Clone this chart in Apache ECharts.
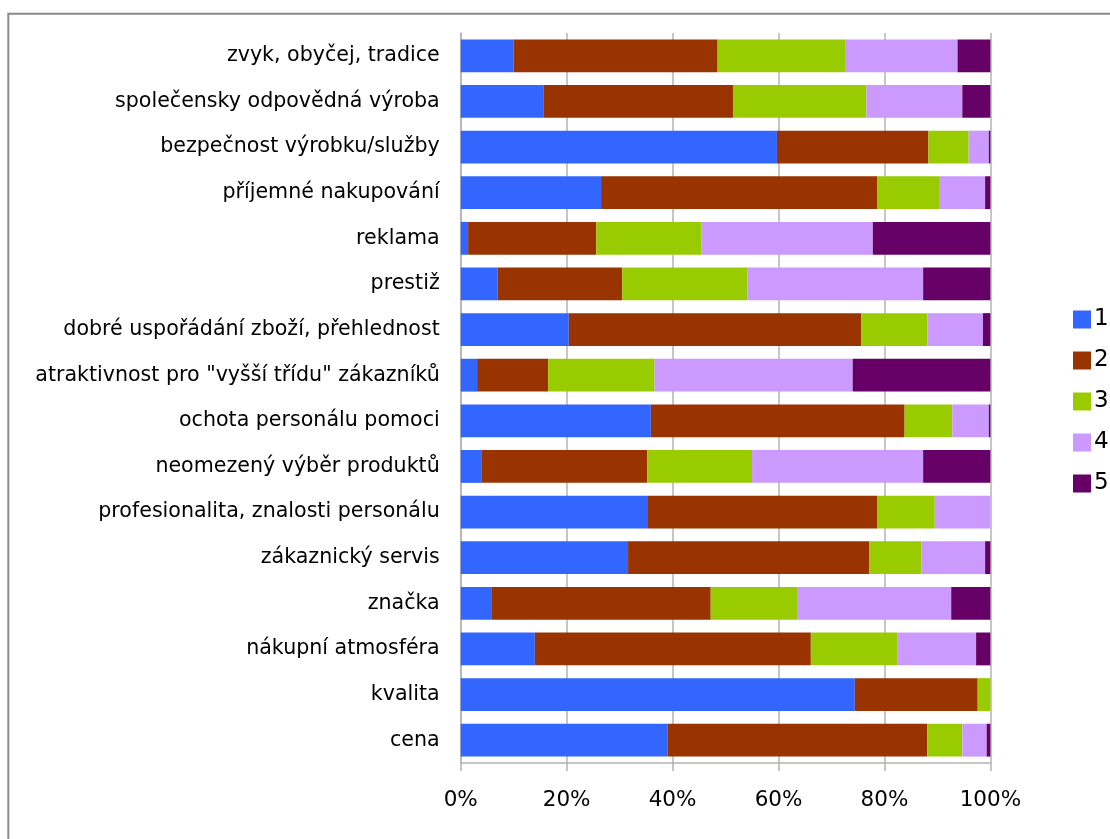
<!DOCTYPE html>
<html>
<head>
<meta charset="utf-8">
<script src="https://cdn.jsdelivr.net/npm/echarts@6/dist/echarts.min.js"></script>
<style>
  html, body { margin: 0; padding: 0; background: #fff; }
  #chart { width: 1110px; height: 839px; }
</style>
</head>
<body>
<div id="chart"></div>
<script>
// Factors, listed top to bottom
const categories = [
  'zvyk, obyčej, tradice',
  'společensky odpovědná výroba',
  'bezpečnost výrobku/služby',
  'příjemné nakupování',
  'reklama',
  'prestiž',
  'dobré uspořádání zboží, přehlednost',
  'atraktivnost pro "vyšší třídu" zákazníků',
  'ochota personálu pomoci',
  'neomezený výběr produktů',
  'profesionalita, znalosti personálu',
  'zákaznický servis',
  'značka',
  'nákupní atmosféra',
  'kvalita',
  'cena'
];

// Share of answers (%) for each rating 1–5, same order as categories
const rating1 = [10.0, 15.7, 59.7, 26.5, 1.4, 7.0, 20.4, 3.1, 35.9, 4.0, 35.2, 31.6, 5.9, 14.0, 74.4, 39.1];
const rating2 = [38.5, 35.7, 28.6, 52.1, 24.2, 23.5, 55.2, 13.4, 47.9, 31.2, 43.4, 45.5, 41.3, 52.1, 23.2, 49.0];
const rating3 = [24.2, 25.2, 7.6, 11.7, 19.8, 23.6, 12.5, 20.1, 9.0, 19.8, 10.9, 9.9, 16.3, 16.4, 2.4, 6.6];
const rating4 = [21.1, 18.1, 3.8, 8.7, 32.4, 33.2, 10.5, 37.4, 6.9, 32.3, 10.5, 12.0, 29.1, 14.8, 0, 4.6];
const rating5 = [6.2, 5.3, 0.3, 1.0, 22.2, 12.7, 1.4, 26.0, 0.3, 12.7, 0, 1.0, 7.4, 2.7, 0, 0.7];

const seriesNames = ['1', '2', '3', '4', '5'];
const seriesData = [rating1, rating2, rating3, rating4, rating5];
const colors = ['#3366FF', '#993300', '#99CC00', '#CC99FF', '#660066'];

const FONT = 'DejaVu Sans';
const chart = echarts.init(document.getElementById('chart'), null, { renderer: 'canvas' });

chart.setOption({
  animation: false,
  backgroundColor: '#ffffff',
  color: colors,
  textStyle: { fontFamily: FONT, color: '#000' },
  graphic: [{
    type: 'rect',
    shape: { x: 8.3, y: 13.7, width: 1300, height: 1000 },
    style: { fill: 'none', stroke: '#8a8a8a', lineWidth: 2 },
    silent: true
  }],
  grid: { left: 460.7, right: 119.6, top: 33, bottom: 76, containLabel: false },
  legend: {
    orient: 'vertical',
    left: 1068,
    top: 303,
    itemWidth: 18,
    itemHeight: 18,
    itemGap: 18,
    icon: 'rect',
    data: seriesNames,
    textStyle: { fontFamily: FONT, fontSize: 23, color: '#000', lineHeight: 22, padding: [0, 0, 0, -2] }
  },
  xAxis: {
    type: 'value',
    min: 0,
    max: 100,
    interval: 20,
    axisLine: { show: true, lineStyle: { color: '#b3b3b3', width: 1.5 } },
    axisTick: { show: true, length: 8, lineStyle: { color: '#b3b3b3', width: 1.5 } },
    axisLabel: { formatter: '{value}%', fontFamily: FONT, fontSize: 21.5, color: '#000', margin: 26 },
    splitLine: { show: true, lineStyle: { color: '#b3b3b3', width: 1.5 } }
  },
  yAxis: {
    type: 'category',
    inverse: true,
    data: categories,
    axisLine: { show: true, lineStyle: { color: '#b3b3b3', width: 1.5 } },
    axisTick: { show: false },
    axisLabel: { fontFamily: FONT, fontSize: 20.6, color: '#000', margin: 21, padding: [0, 0, 8, 0] },
    splitLine: { show: false }
  },
  series: seriesData.map((d, i) => ({
    name: seriesNames[i],
    type: 'bar',
    stack: 'total',
    barCategoryGap: '28%',
    data: d,
    itemStyle: { color: colors[i] }
  }))
});
</script>
</body>
</html>
